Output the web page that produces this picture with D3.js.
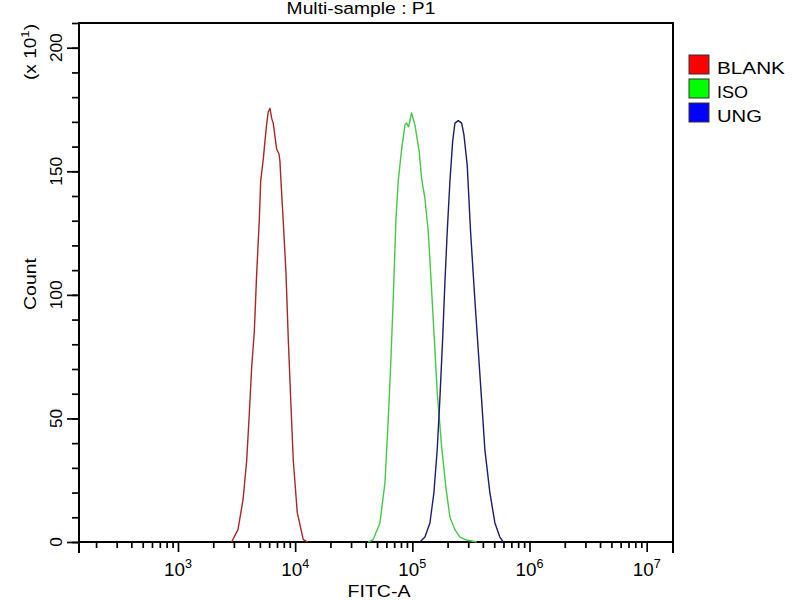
<!DOCTYPE html>
<html><head><meta charset="utf-8">
<script src="https://cdn.jsdelivr.net/npm/d3@7"></script>
<style>
body{margin:0;background:#fff}
svg{display:block}
text{font-family:"Liberation Sans",Arial,sans-serif;fill:#000}
</style>
</head><body>
<svg id="c" width="800" height="600"></svg>
<script>
// ---- data (count axis in units of x10^1) ----
const seriesNames = ["BLANK", "ISO", "UNG"];
const seriesColors = ["#a8262a", "#45c845", "#1c1c70"];
const legendColors = ["#ff0000", "#00ff00", "#0000ff"];

const blankFITC  = [2870,3250,3590,3860,4040,4260,4480,4700,4940,5080,5350,5520,5710,5890,6100,6300,6500,6950,7280,7420,7570,7910,8350,8740,9160,9640,10420,11730,12850];
const blankCount = [0,5,17,33,50,71,85,109,130,146,155,162,169,174,175.5,171.5,169.5,159,157,154,146,130,109,82,58,33,12,1,0];

const isoFITC  = [42070,46400,52900,58400,62300,65300,68700,72400,75800,81100,86500,89400,93000,98600,105200,114500,120000,128100,136800,143300,152900,163100,177800,193500,209400,231000,254900,290600,353800];
const isoCount = [0,1,7.7,24,49.6,71,98,130,146,159,168.8,169.5,168,173.6,168.8,158,147,139,125.6,109,85,60.6,38.6,22,10,5,2,0.8,0];

const ungFITC  = [116100,128100,141300,152900,163100,171800,181400,189700,198600,209400,220800,231000,246700,263700,275600,294000,314100,341700,364900,389900,416000,459000,506800,558500,596800];
const ungCount = [0,2,7.7,20,37.4,57.7,82,105,125.6,146,162,169.5,170.5,169.5,164.8,152.6,125.6,98,78,57.7,37.4,20,7.7,2,0];

const xMajorTicks = [1e3, 1e4, 1e5, 1e6, 1e7];
const xTickExponents = ["3", "4", "5", "6", "7"];
const yMajorTicks = [0, 50, 100, 150, 200];
const yMinorTicks = d3.range(0, 211, 10);
const titleText = "Multi-sample : P1";
const xLabel = "FITC-A";
const yLabel = "Count";

// ---- layout ----
const L = 79, R = 673, T = 23, B = 542;
const svg = d3.select("#c");
const x = d3.scaleLog().domain([143, 16777215]).range([L, R]);
const y = d3.scaleLinear().domain([0, 210]).range([B, T]);

function fit(sel, tx, ty, rot, target) {
  const len = sel.node().getComputedTextLength();
  const k = target / len;
  sel.attr("transform", `translate(${tx},${ty}) rotate(${rot}) scale(${k},1)`);
}

// minor x ticks: 2..9 x 10^n inside domain
const xMinorTicks = [];
for (let e = 2; e <= 7; e++) for (let m = 2; m <= 9; m++) {
  const v = m * Math.pow(10, e);
  if (v > 143 && v < 16777215) xMinorTicks.push(v);
}

// axes
const axStyle = g => { g.select(".domain").remove(); g.selectAll("line").attr("stroke", "#000").attr("stroke-width", 1.7); };
svg.append("g").attr("transform", `translate(0,${B})`)
  .call(d3.axisBottom(x).tickValues(xMinorTicks).tickSize(6).tickFormat("")).call(axStyle);
svg.append("g").attr("transform", `translate(0,${B})`)
  .call(d3.axisBottom(x).tickValues(xMajorTicks).tickSize(10).tickFormat("")).call(axStyle);
svg.append("g").attr("transform", `translate(${L},0)`)
  .call(d3.axisLeft(y).tickValues(yMinorTicks).tickSize(7).tickFormat("")).call(axStyle);
svg.append("g").attr("transform", `translate(${L},0)`)
  .call(d3.axisLeft(y).tickValues(yMajorTicks).tickSize(12).tickFormat("")).call(axStyle);

// frame
svg.append("rect").attr("x", L).attr("y", T).attr("width", R - L).attr("height", B - T)
  .attr("fill", "none").attr("stroke", "#000").attr("stroke-width", 2);
svg.append("line").attr("x1", L).attr("x2", L).attr("y1", B).attr("y2", B + 11).attr("stroke", "#000").attr("stroke-width", 2);
svg.append("line").attr("x1", R).attr("x2", R).attr("y1", B).attr("y2", B + 11).attr("stroke", "#000").attr("stroke-width", 2);

// x tick labels
xMajorTicks.forEach((v, i) => {
  const t = svg.append("text").attr("text-anchor", "middle").attr("font-size", 18);
  t.append("tspan").text("10");
  t.append("tspan").attr("font-size", 12).attr("dy", -8).text(xTickExponents[i]);
  fit(t, x(v), 576, 0, 28);
});

// y tick labels (rotated)
yMajorTicks.forEach(v => {
  const t = svg.append("text").attr("text-anchor", "middle").attr("font-size", 17).text(String(v));
  fit(t, 62, y(v), -90, String(v).length * 9.6);
});

// axis titles
const tt = svg.append("text").attr("text-anchor", "middle").attr("font-size", 17).text(titleText);
fit(tt, 361, 14, 0, 149);
const xl = svg.append("text").attr("text-anchor", "middle").attr("font-size", 17).text(xLabel);
fit(xl, 379, 597, 0, 63);
const yl = svg.append("text").attr("text-anchor", "middle").attr("font-size", 17).text(yLabel);
fit(yl, 36, 284, -90, 52);
const ex = svg.append("text").attr("text-anchor", "middle").attr("font-size", 16);
ex.append("tspan").text("(x 10");
ex.append("tspan").attr("font-size", 11).attr("dy", -7).text("1");
ex.append("tspan").attr("dy", 7).text(")");
fit(ex, 36, 52, -90, 56);

// curves
const line = d3.line().x(d => x(d[0])).y(d => y(d[1]));
const series = [
  d3.zip(blankFITC, blankCount),
  d3.zip(isoFITC, isoCount),
  d3.zip(ungFITC, ungCount)
];
series.forEach((s, i) => {
  svg.append("path").datum(s).attr("d", line).attr("fill", "none")
    .attr("stroke", seriesColors[i]).attr("stroke-width", 1.4).attr("stroke-linejoin", "round");
});

// legend
const legendWidths = [68, 31, 45];
seriesNames.forEach((n, i) => {
  svg.append("rect").attr("x", 689).attr("y", 55 + 24 * i).attr("width", 20).attr("height", 19)
    .attr("fill", legendColors[i]).attr("stroke", "#333").attr("stroke-width", 1);
  const t = svg.append("text").attr("font-size", 17).text(n);
  fit(t, 717, 74 + 24 * i, 0, legendWidths[i]);
});
</script>
</body></html>
